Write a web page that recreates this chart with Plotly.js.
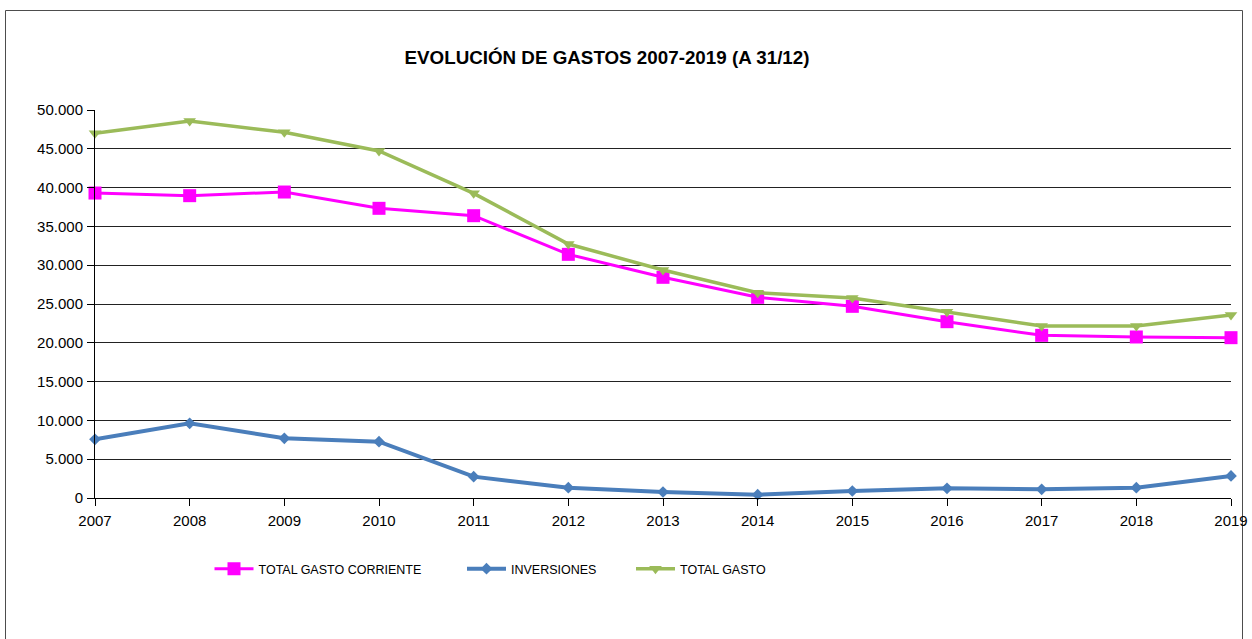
<!DOCTYPE html>
<html>
<head>
<meta charset="utf-8">
<script src="https://cdn.plot.ly/plotly-3.0.1.min.js"></script>
<style>html,body{margin:0;padding:0;background:#fff;}#chart{width:1252px;height:639px;}</style>
</head>
<body>
<div id="chart"></div>
<script>
const years = [2007,2008,2009,2010,2011,2012,2013,2014,2015,2016,2017,2018,2019];
const totalGastoCorriente = [39300,38960,39430,37330,36380,31400,28440,25860,24700,22720,20960,20750,20660];
const inversiones = [7560,9620,7690,7260,2750,1330,770,430,900,1250,1120,1330,2840];
const totalGasto = [47000,48580,47120,44720,39260,32730,29380,26460,25770,24010,22160,22160,23580];
const seriesNames = ['TOTAL GASTO CORRIENTE','INVERSIONES','TOTAL GASTO'];
const titleText = 'EVOLUCIÓN DE GASTOS 2007-2019 (A 31/12)';

const legendFont = {family: 'Liberation Sans, Arial, sans-serif', size: 12.5, color: '#000'};

const traces = [
  {x: years, y: totalGastoCorriente, name: seriesNames[0], type: 'scatter', mode: 'lines+markers',
   line: {color: '#FF00FF', width: 3}, marker: {symbol: 'square', size: 13, color: '#FF00FF'},
   cliponaxis: false, legend: 'legend'},
  {x: years, y: inversiones, name: seriesNames[1], type: 'scatter', mode: 'lines+markers',
   line: {color: '#4A7EBB', width: 4}, marker: {symbol: 'diamond', size: 9, color: '#4A7EBB'},
   cliponaxis: false, legend: 'legend2'},
  {x: years, y: totalGasto, name: seriesNames[2], type: 'scatter', mode: 'lines+markers',
   line: {color: '#9BBB59', width: 3.5}, marker: {symbol: 'triangle-down', size: 11, color: '#9BBB59'},
   cliponaxis: false, legend: 'legend3'}
];

function leg(px) {
  return {x: px/1252, xref: 'container', xanchor: 'left', y: 1 - 569/639, yref: 'container', yanchor: 'middle',
          orientation: 'h', font: legendFont, bgcolor: 'rgba(0,0,0,0)', borderwidth: 0, itemwidth: 39};
}

const layout = {
  width: 1252, height: 639,
  paper_bgcolor: '#fff', plot_bgcolor: '#fff',
  separators: ',.',
  margin: {l: 95, r: 21, t: 110, b: 141, autoexpand: false},
  title: {text: titleText, x: 607/1252, xref: 'container', xanchor: 'center',
          y: 1 - 57/639, yref: 'container', yanchor: 'middle',
          font: {family: 'Liberation Sans, Arial, sans-serif', size: 18.8, weight: 'bold', color: '#000'}},
  font: {family: 'Liberation Sans, Arial, sans-serif', color: '#000'},
  xaxis: {range: [2007, 2019], dtick: 1, tick0: 2007, tickformat: 'd', showgrid: false, zeroline: false,
          showline: true, linecolor: '#000', linewidth: 1, ticks: 'outside', ticklen: 7, tickcolor: '#000',
          ticklabelstandoff: 2, tickfont: {size: 15, color: '#000'}},
  yaxis: {range: [0, 50000], dtick: 5000, tickformat: ',', showgrid: true, gridcolor: '#222', gridwidth: 1,
          zeroline: false, showline: true, linecolor: '#000', linewidth: 1, ticks: 'outside', ticklen: 7,
          tickcolor: '#000', ticklabelstandoff: 1, tickfont: {size: 15, color: '#000'}},
  showlegend: true,
  legend: leg(209.5), legend2: leg(462), legend3: leg(631),
  shapes: [{type: 'rect', xref: 'paper', yref: 'paper',
            x0: (5.5-95)/1136, x1: (1242.5-95)/1136, y0: (498-660)/388, y1: (498-10.5)/388,
            line: {color: '#4d4d4d', width: 1}, fillcolor: 'rgba(0,0,0,0)', layer: 'below'}]
};

Plotly.newPlot('chart', traces, layout, {displayModeBar: false, staticPlot: true});
</script>
</body>
</html>
